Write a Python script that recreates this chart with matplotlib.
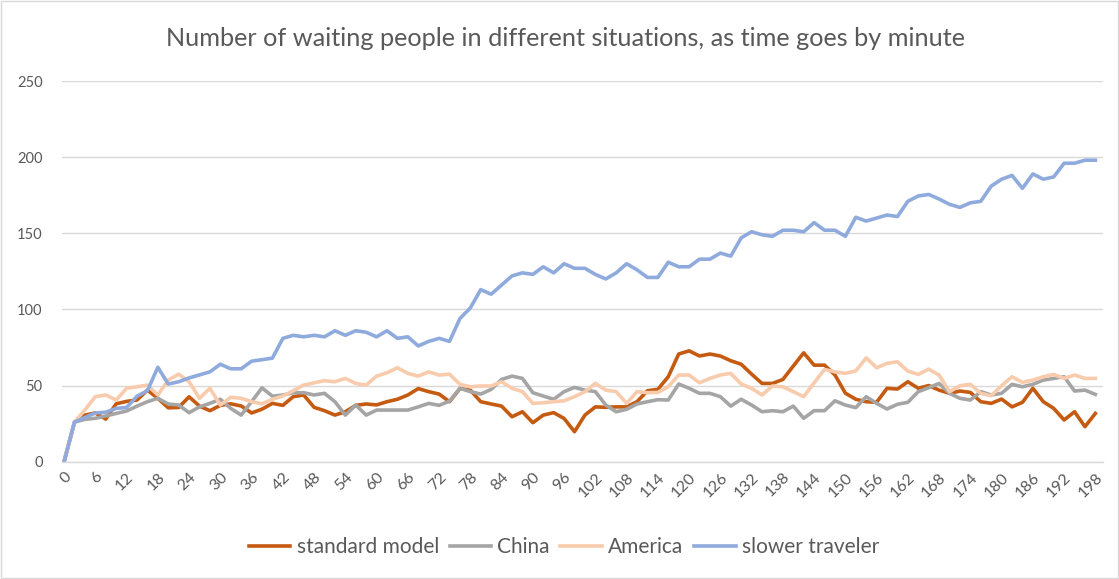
import numpy as np
import matplotlib
matplotlib.use('Agg')
import matplotlib.pyplot as plt
from matplotlib.patches import Rectangle

# minutes 0, 2, ..., 198
minutes = np.arange(0, 200, 2)

standard_model = [
    0, 26, 30.6, 32, 28, 38, 39.6, 40.5, 47, 41.6,
    35.4, 35.6, 42.6, 36.5, 33.5, 37, 38, 36.6, 32, 34.5,
    38.3, 37, 42.7, 43.8, 35.7, 33.5, 30.6, 32.8, 37, 37.9,
    37.3, 39.4, 41, 43.8, 48, 46, 44.4, 39.4, 48, 47,
    39.4, 37.9, 36.5, 29.5, 32.8, 25.6, 30.6, 32.2, 28.4, 19.7,
    30.6, 36, 35.7, 36, 36, 39.4, 46.6, 47.5, 55.8, 70.7,
    72.8, 69.4, 70.7, 69.4, 66.3, 64, 57.5, 51.4, 51.4, 54,
    62.8, 71.5, 63.4, 63.4, 57, 45, 41, 39.4, 39, 48.2,
    47.7, 52.5, 48.2, 50, 47, 44.9, 46.4, 45.5, 39.4, 38.3,
    41.1, 36, 39, 48.2, 39.4, 35, 27.4, 32.8, 23, 31.7,
]

china = [
    0, 26, 27.8, 28.5, 30, 31.7, 33.3, 36.5, 39.4, 41.6,
    37.9, 37.2, 32.2, 36, 38.3, 41, 35, 30.6, 39.4, 48.5,
    43, 43.8, 45.3, 45.3, 43.8, 44.9, 39.4, 30.6, 37.2, 30.6,
    33.9, 33.9, 33.9, 33.9, 36, 38.3, 37, 39.8, 48.2, 46,
    44.4, 47.5, 54, 56.2, 54.7, 45.3, 43.1, 41, 46, 48.8,
    47, 46, 37.2, 32.8, 34.4, 37.9, 39.4, 40.7, 40.5, 51,
    48.2, 44.9, 44.9, 42.7, 36.5, 41, 37.2, 32.8, 33.5, 32.8,
    36.5, 28.5, 33.5, 33.5, 40, 37.2, 35.5, 42.7, 38.3, 34.6,
    37.7, 39, 46, 48.6, 51.4, 44.9, 41.6, 40.5, 46, 43.8,
    44.9, 50.8, 49.2, 50.8, 53.6, 54.7, 55.8, 46.4, 47, 44.2,
]

america = [
    0, 26, 34, 42.7, 43.8, 40.5, 48.2, 49.2, 50.3, 43.8,
    53.6, 57.5, 52.5, 41.6, 48.2, 37.2, 42.3, 41.6, 39.4, 38,
    41, 43.1, 46.6, 50.3, 51.8, 53.2, 52.5, 54.7, 51.4, 50.3,
    56.2, 58.4, 61.7, 58, 56.2, 59, 56.9, 57.5, 50.8, 49.2,
    49.7, 49.7, 52.5, 48.2, 46, 38.3, 38.7, 39.4, 40, 42.7,
    46, 51.4, 47, 46, 38.3, 46, 45.3, 45.5, 49.2, 56.9,
    56.9, 51.8, 54.7, 56.9, 58, 51, 48.2, 43.8, 49.7, 49.2,
    46, 42.7, 51.8, 60.6, 59, 58, 59.6, 68.2, 61.7, 64.6,
    65.6, 59.5, 57.3, 60.8, 56.9, 46, 49.9, 50.8, 44.9, 43.3,
    49.9, 55.8, 52.1, 53.6, 55.8, 57.3, 54.7, 56.9, 54.7, 54.7,
]

slower_traveler = [
    0, 26, 29, 32, 32.5, 35, 35.6, 43, 46.6, 62,
    51, 52.5, 55, 57, 59, 64, 61, 61, 66, 67,
    68, 81, 83, 82, 83, 82, 86, 83, 86, 85,
    82, 86, 81, 82, 76, 79, 81, 79, 94, 101,
    113, 110, 116, 122, 124, 123, 128, 124, 130, 127,
    127, 123, 120, 124, 130, 126, 121, 121, 131, 128,
    128, 133, 133, 137, 135, 147, 151, 149, 148, 152,
    152, 151, 157, 152, 152, 148, 160.5, 158, 160, 162,
    161, 171, 174.5, 175.5, 172.5, 169, 167, 170, 171, 181,
    185.5, 188, 179.5, 189, 185.5, 187, 196, 196, 198, 198,
]

series = [
    ('standard model', standard_model, '#C55A11'),
    ('China', china, '#A5A5A5'),
    ('America', america, '#F8CBAD'),
    ('slower traveler', slower_traveler, '#8FAADC'),
]

plt.rcParams['font.family'] = ['Lato', 'DejaVu Sans']
text_color = '#595959'

fig = plt.figure(figsize=(11.19, 5.79), dpi=100)
ax = fig.add_axes([0.0554, 0.2026, 0.930, 0.6575])

for label, vals, color in series:
    ax.plot(minutes, vals, color=color, linewidth=2.6, label=label,
            solid_joinstyle='round')

ax.set_xlim(-0.4, 199.4)
ax.set_ylim(0, 250)
ax.set_yticks(range(0, 251, 50))
ax.set_xticks(minutes[::3])
ax.set_xticklabels([str(m) for m in minutes[::3]], rotation=45,
                   ha='right', va='top', rotation_mode='anchor')
ax.tick_params(axis='both', length=0, colors=text_color)
ax.tick_params(axis='x', pad=6, labelsize=11.5)
ax.tick_params(axis='y', pad=14, labelsize=10.5)
ax.grid(axis='y', color='#D9D9D9', linewidth=1.0)
ax.set_axisbelow(True)
for side in ['top', 'right', 'left']:
    ax.spines[side].set_visible(False)
ax.spines['bottom'].set_color('#D9D9D9')
ax.spines['bottom'].set_linewidth(1.0)

fig.text(0.505, 0.934, 'Number of waiting people in different situations, as time goes by minute',
         ha='center', va='center', fontsize=18.2, color=text_color)

fig.legend(loc='center', bbox_to_anchor=(0.504, 0.055), ncol=4, frameon=False,
           fontsize=15, handlelength=2.0, handletextpad=0.3, columnspacing=0.5,
           labelcolor=text_color)

fig.patches.append(Rectangle((0.001, 0.001), 0.998, 0.998, transform=fig.transFigure,
                             fill=False, edgecolor='#D9D9D9', linewidth=1.0))

fig.savefig('out.png', dpi=100)
plt.close()
